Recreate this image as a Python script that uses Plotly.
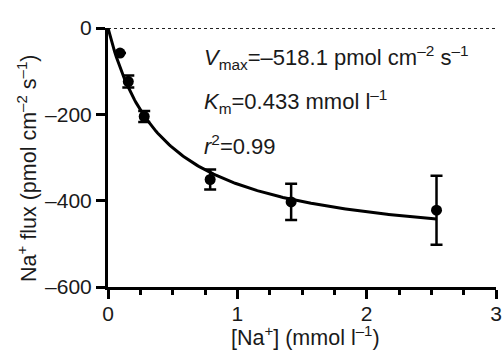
import numpy as np
import plotly.graph_objects as go

# Data
na_conc = [0.093, 0.157, 0.28, 0.79, 1.416, 2.54]          # [Na+] (mmol l-1)
na_flux = [-58, -124, -205, -351, -403, -422]               # pmol cm-2 s-1
flux_err = [0, 14, 13, 23, 42, 80]

# Michaelis-Menten fit parameters shown on the chart
VMAX = -518.1
KM = 0.433
fit_x = np.linspace(0, 2.54, 200)
fit_y = VMAX * fit_x / (KM + fit_x)

x_ticks = [0, 1, 2, 3]
x_ticktext = ["0", "1", "2", "3"]
x_minor = [0.25, 0.5, 0.75, 1.25, 1.5, 1.75, 2.25, 2.5, 2.75]
y_ticks = [0, -200, -400, -600]
y_ticktext = ["0", "–200", "–400", "–600"]

FONT = "Liberation Sans, Arial, Helvetica, sans-serif"
TXT = "#1a1a1a"

W, H = 503, 350
L, R, T, B = 108, 7, 28, 63
pw, ph = W - L - R, H - T - B


def px_x(x):
    return (x - L) / pw


def px_y(y):
    return (H - B - y) / ph


fig = go.Figure()

# zero reference line (dotted)
fig.add_trace(go.Scatter(x=[0, 3], y=[0, 0], mode="lines",
                         line=dict(color="#222222", width=2, dash="dot"),
                         hoverinfo="skip", showlegend=False, cliponaxis=False))

# fitted curve
fig.add_trace(go.Scatter(x=fit_x, y=fit_y, mode="lines",
                         line=dict(color="black", width=3),
                         showlegend=False))

# data points with error bars
fig.add_trace(go.Scatter(x=na_conc, y=na_flux, mode="markers",
                         marker=dict(color="black", size=11),
                         error_y=dict(type="data", array=flux_err, visible=True,
                                      color="black", thickness=2.5, width=6),
                         showlegend=False))

axis_common = dict(showline=True, linecolor="black", linewidth=3,
                   ticks="outside", ticklen=9, tickwidth=3, tickcolor="black",
                   showgrid=False, zeroline=False, mirror=False,
                   tickfont=dict(family=FONT, size=21, color=TXT))

fig.update_xaxes(range=[0, 3], tickvals=x_ticks, ticktext=x_ticktext,
                 minor=dict(tickvals=x_minor, ticklen=5, tickwidth=3,
                            tickcolor="black", ticks="outside"),
                 ticklabelstandoff=-3,
                 **axis_common)
fig.update_yaxes(range=[-600, 0], tickvals=y_ticks, ticktext=y_ticktext,
                 **axis_common)

annot_font = dict(family=FONT, size=22, color=TXT)
for text, ypix in [
    ("<i>V</i><sub>max</sub>=–518.1 pmol cm<sup>–2</sup> s<sup>–1</sup>", 57),
    ("<i>K</i><sub>m</sub>=0.433 mmol l<sup>–1</sup>", 101),
    ("<i>r</i><sup>2</sup>=0.99", 145),
]:
    fig.add_annotation(x=px_x(202), y=px_y(ypix), xref="paper", yref="paper",
                       xanchor="left", yanchor="middle", text=text,
                       showarrow=False, font=annot_font)

# axis titles
fig.add_annotation(x=px_x(27), y=px_y(168), xref="paper", yref="paper",
                   xanchor="center", yanchor="middle",
                   text="Na<sup>+</sup> flux (pmol cm<sup>–2</sup> s<sup>–1</sup>)",
                   textangle=-90, showarrow=False,
                   font=dict(family=FONT, size=21.5, color=TXT))
fig.add_annotation(x=px_x(305), y=px_y(336), xref="paper", yref="paper",
                   xanchor="center", yanchor="middle",
                   text="[Na<sup>+</sup>] (mmol l<sup>–1</sup>)",
                   showarrow=False, font=dict(family=FONT, size=21.5, color=TXT))

fig.update_layout(width=W, height=H,
                  margin=dict(l=L, r=R, t=T, b=B, autoexpand=False),
                  plot_bgcolor="white", paper_bgcolor="white")

fig.write_html("out.html", config={"displayModeBar": False},
               post_script="document.body.style.margin='0';document.body.style.padding='0';document.body.style.overflow='hidden';")
